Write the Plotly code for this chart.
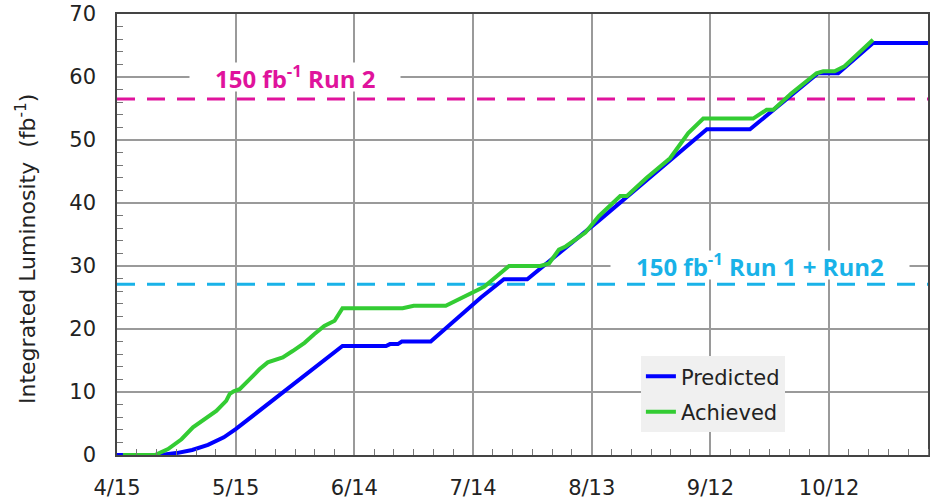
import pandas as pd
import plotly.graph_objects as go

# Integrated luminosity, days counted from 15 April
START = pd.Timestamp("2018-04-15")

pred_day = [0, 11, 15, 19, 23, 27, 30, 40, 57, 68, 69, 71, 72, 79.3, 92, 97.8,
            103.7, 121.8, 149.1, 160, 177.2, 182.3, 191.1, 205]
pred_lumi = [0, 0, 0.3, 0.8, 1.6, 2.8, 4.1, 9.0, 17.3, 17.3, 17.6, 17.6, 18.0, 18.0,
             25.0, 27.9, 27.9, 37.2, 51.7, 51.7, 60.6, 60.6, 65.4, 65.4]

ach_day = [1.5, 9.6, 12.9, 16.3, 19.2, 22.2, 25.1, 27.6, 28.5, 29.5, 31, 33.5, 36,
           38.1, 41.9, 44.4, 47.4, 49.9, 52.4, 55, 57, 72.2, 75, 83.1, 91.5, 92.8,
           99.1, 107, 109.2, 111.7, 113.4, 118.4, 121.8, 127.2, 128.9, 133.9, 139.8,
           141.9, 144.4, 148.2, 160.8, 164.2, 165.9, 170.5, 173.8, 176.8, 178.5,
           181.4, 183.9, 191.1]
ach_lumi = [0, 0, 0.95, 2.5, 4.4, 5.7, 7.0, 8.6, 9.7, 10.1, 10.45, 12.0, 13.6, 14.7,
            15.5, 16.5, 17.8, 19.2, 20.5, 21.3, 23.3, 23.3, 23.7, 23.7, 26.3, 26.7,
            30.0, 30.0, 30.4, 32.6, 33.1, 35.3, 37.9, 41.1, 41.1, 44.0, 47.1, 49.0,
            51.1, 53.4, 53.4, 54.8, 54.8, 57.4, 59.0, 60.6, 60.9, 60.9, 61.7, 65.9]

# Target levels (fb^-1)
target_run2 = 56.5
target_run1_run2 = 27.1

x_end_day = 205
y_max = 70


def to_dates(days):
    return [START + pd.Timedelta(days=d) for d in days]


TICK_FONT = dict(family="DejaVu Sans", size=21, color="#222222")
DAY_MS = 86400000
NB = "\u00a0"

fig = go.Figure()
fig.add_trace(go.Scatter(
    x=to_dates(pred_day), y=pred_lumi, mode="lines", name="Predicted",
    legendgroup="p", line=dict(color="#0000FF", width=4),
))
fig.add_trace(go.Scatter(
    x=to_dates(ach_day), y=ach_lumi, mode="lines", name="Achieved",
    legendgroup="a", line=dict(color="#33CC33", width=4),
))

# Dashed target lines across the full width
for level, colour in [(target_run2, "#E0139C"), (target_run1_run2, "#19B2E8")]:
    fig.add_shape(type="line", xref="paper", yref="y", x0=0, x1=1, y0=level, y1=level,
                  line=dict(color=colour, width=3, dash="18px,12px"), layer="between")

# Target labels, sitting on the 60 and 30 gridlines with a white backing
fig.add_annotation(xref="paper", yref="y", x=0.219, y=60, xanchor="center",
                   text=NB * 4 + "150 fb<sup>-1</sup> Run 2" + NB * 4,
                   showarrow=False, bgcolor="white", borderpad=0, height=28,
                   font=dict(family="Open Sans", size=24, color="#E0139C", weight="bold"))
fig.add_annotation(xref="paper", yref="y", x=0.793, y=30, xanchor="center", yshift=1,
                   text=NB * 4 + "150 fb<sup>-1</sup> Run 1 + Run2" + NB * 4,
                   showarrow=False, bgcolor="white", borderpad=0, height=28,
                   font=dict(family="Open Sans", size=24, color="#19B2E8", weight="bold"))

# Y-axis title
fig.add_annotation(xref="paper", yref="paper", x=-0.113, y=0.468,
                   xanchor="center", yanchor="middle", textangle=-90, showarrow=False,
                   text="Integrated Luminosity" + NB * 2 + "(fb<sup>-1</sup>)",
                   font=dict(family="DejaVu Sans", size=22, color="#222222"))

fig.update_xaxes(
    type="date",
    range=[START, START + pd.Timedelta(days=x_end_day)],
    tick0=START, dtick=30 * DAY_MS, tickformat="%-m/%-d",
    tickfont=TICK_FONT, ticks="", ticklabelstandoff=13,
    showgrid=True, gridcolor="#9a9a9a", gridwidth=1.5,
    showline=True, mirror=True, linecolor="#444444", linewidth=1.5,
    minor=dict(dtick=5 * DAY_MS, tick0=START, ticks="inside", ticklen=6,
               tickcolor="#777777", showgrid=False),
    zeroline=False,
)
fig.update_yaxes(
    range=[0, y_max], dtick=10, tickfont=TICK_FONT, ticks="", ticklabelstandoff=15,
    showgrid=True, gridcolor="#9a9a9a", gridwidth=1.5,
    showline=True, mirror=True, linecolor="#444444", linewidth=1.5,
    minor=dict(dtick=2, ticks="inside", ticklen=6, tickcolor="#777777", showgrid=False),
    zeroline=False,
)

fig.update_layout(
    width=932, height=502,
    margin=dict(l=117, r=2, t=14, b=46),
    paper_bgcolor="white", plot_bgcolor="white",
    showlegend=True,
    legend=dict(x=0.646, y=0.224, xanchor="left", yanchor="top",
                bgcolor="#f0f0f0", borderwidth=0,
                font=dict(family="DejaVu Sans", size=21, color="#222222"),
                itemwidth=30, traceorder="grouped", tracegroupgap=5),
)

fig.write_html("out.html")
